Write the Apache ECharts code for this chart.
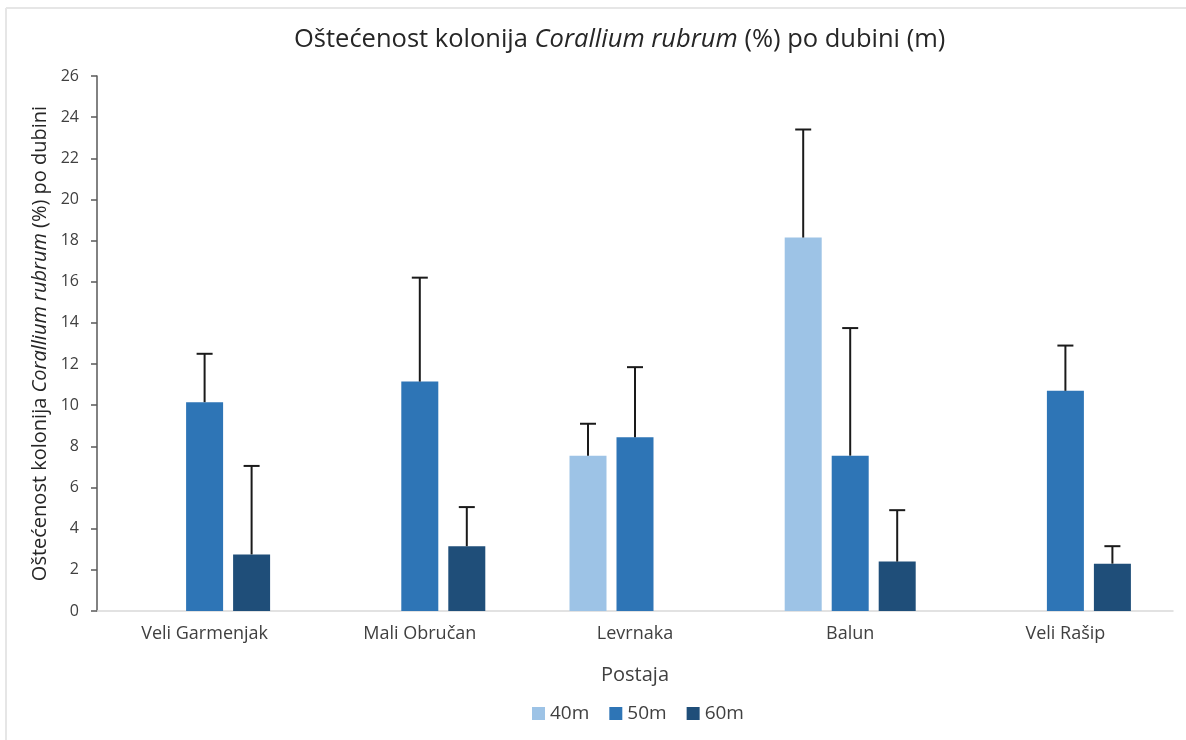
<!DOCTYPE html>
<html>
<head>
<meta charset="utf-8">
<script src="https://cdn.jsdelivr.net/npm/echarts@6/dist/echarts.min.js"></script>
<style>
  html, body { margin: 0; padding: 0; background: #ffffff; }
  #chart { width: 1186px; height: 740px; }
</style>
</head>
<body>
<div id="chart"></div>
<script>
// Stations along the x axis
const stations = ['Veli Garmenjak', 'Mali Obručan', 'Levrnaka', 'Balun', 'Veli Rašip'];
// Depth series names
const depths = ['40m', '50m', '60m'];
// Mean damage (%) per station, one array per depth ('-' = no colonies at that depth)
const mean40 = ['-', '-', 7.55, 18.15, '-'];
const mean50 = [10.15, 11.15, 8.45, 7.55, 10.7];
const mean60 = [2.75, 3.15, '-', 2.4, 2.3];
// Upper end of the error bar (mean + SD) per station
const upper40 = ['-', '-', 9.1, 23.4, '-'];
const upper50 = [12.5, 16.2, 11.85, 13.75, 12.9];
const upper60 = [7.05, 5.05, '-', 4.9, 3.15];
// Y axis tick values
const yTicks = [0, 2, 4, 6, 8, 10, 12, 14, 16, 18, 20, 22, 24, 26];

const colors = ['#9DC3E6', '#2E75B6', '#1F4E79'];
const means = [mean40, mean50, mean60];
const uppers = [upper40, upper50, upper60];

const BAR_W = 37;
const BAR_GAP = 10;
const FONT = '"Open Sans", Lato, sans-serif';

const chart = echarts.init(document.getElementById('chart'));

const barSeries = depths.map((d, i) => ({
  name: d,
  type: 'bar',
  data: means[i],
  barWidth: BAR_W,
  barGap: (BAR_GAP / BAR_W * 100) + '%',
  itemStyle: { color: colors[i] },
  z: 2
}));

// Upper error bars drawn with a custom series, shifted onto each bar's centre
const errSeries = depths.map((d, i) => ({
  type: 'custom',
  name: d + ' err',
  data: stations.map((s, k) => [k, means[i][k], uppers[i][k]]),
  z: 3,
  silent: true,
  renderItem: function (params, api) {
    const m = api.value(1), u = api.value(2);
    if (isNaN(m) || isNaN(u)) return null;
    const off = (i - 1) * (BAR_W + BAR_GAP);
    const p0 = api.coord([api.value(0), m]);
    const p1 = api.coord([api.value(0), u]);
    const x = p0[0] + off;
    const cap = 8;
    const style = { stroke: '#1a1a1a', lineWidth: 2 };
    return {
      type: 'group',
      children: [
        { type: 'line', shape: { x1: x, y1: p0[1], x2: x, y2: p1[1] }, style: style },
        { type: 'line', shape: { x1: x - cap, y1: p1[1], x2: x + cap, y2: p1[1] }, style: style }
      ]
    };
  }
}));

chart.setOption({
  animation: false,
  backgroundColor: '#ffffff',
  textStyle: { fontFamily: FONT },
  title: {
    text: '{n|Oštećenost kolonija }{i|Corallium rubrum}{n| (%) po dubini (m)}',
    left: 289,
    top: 22,
    textStyle: {
      fontWeight: 'normal',
      rich: {
        n: { fontFamily: FONT, fontSize: 25.5, fontWeight: 'normal', color: '#262626' },
        i: { fontFamily: FONT, fontSize: 25.5, fontWeight: 'normal', color: '#262626', fontStyle: 'italic' }
      }
    }
  },
  legend: {
    data: depths,
    bottom: 12,
    left: 527,
    itemWidth: 13,
    itemHeight: 13,
    itemGap: 20,
    icon: 'rect',
    textStyle: { fontFamily: FONT, fontSize: 19, color: '#404040' }
  },
  grid: { left: 97, right: 13, top: 76, bottom: 129, containLabel: false },
  xAxis: {
    type: 'category',
    data: stations,
    name: 'Postaja',
    nameLocation: 'middle',
    nameGap: 54,
    nameTextStyle: { fontFamily: FONT, fontSize: 20, color: '#404040' },
    axisLine: { lineStyle: { color: '#d9d9d9', width: 1.5 } },
    axisTick: { show: false },
    axisLabel: { fontFamily: FONT, fontSize: 18, color: '#404040', margin: 14 },
    splitLine: { show: false }
  },
  yAxis: {
    type: 'value',
    min: yTicks[0],
    max: yTicks[yTicks.length - 1],
    interval: yTicks[1] - yTicks[0],
    name: '{n|Oštećenost kolonija }{i|Corallium rubrum}{n| (%) po dubini}',
    nameLocation: 'middle',
    nameGap: 44,
    nameRotate: 90,
    nameTextStyle: {
      rich: {
        n: { fontFamily: FONT, fontSize: 20, color: '#262626' },
        i: { fontFamily: FONT, fontSize: 20, color: '#262626', fontStyle: 'italic' }
      }
    },
    axisLine: { show: true, lineStyle: { color: '#595959', width: 1.5 } },
    axisTick: { show: true, inside: false, length: 6, lineStyle: { color: '#595959', width: 1.5 } },
    axisLabel: { fontFamily: FONT, fontSize: 16, color: '#404040', margin: 18 },
    splitLine: { show: false }
  },
  graphic: [
    { type: 'line', shape: { x1: 6, y1: 8, x2: 1186, y2: 8 }, style: { stroke: '#e6e6e6', lineWidth: 2 } },
    { type: 'line', shape: { x1: 6, y1: 8, x2: 6, y2: 740 }, style: { stroke: '#e6e6e6', lineWidth: 2 } }
  ],
  series: barSeries.concat(errSeries)
});
</script>
</body>
</html>
